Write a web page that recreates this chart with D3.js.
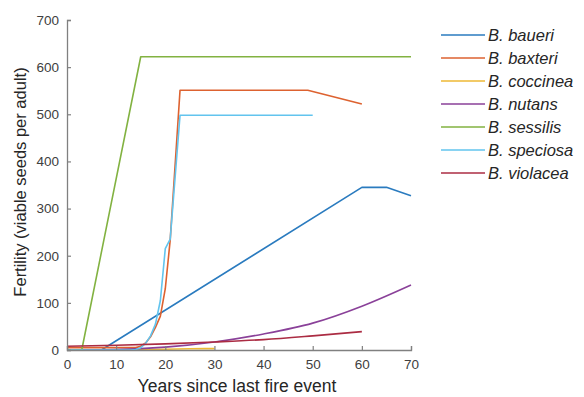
<!DOCTYPE html>
<html><head><meta charset="utf-8">
<script src="https://cdn.jsdelivr.net/npm/d3@7"></script>
<style>body{margin:0;background:#fff}svg{display:block}</style>
</head><body>
<svg id="c" width="584" height="397"></svg>
<script>
const species = ["B. baueri","B. baxteri","B. coccinea","B. nutans","B. sessilis","B. speciosa","B. violacea"];
const colors = ["#2a7bbf","#dd6230","#eeb935","#8a4199","#82b241","#62c4ee","#ab2c43"];
const baueriX = [0,7,60,65,70];
const baueriY = [0,0,345,345,327];
const baxteriX = [0,14,15,16,17,18,19,20,21,23,49,60];
const baxteriY = [5,5,8,15,28,48,72,130,233,551,551,522];
const coccineaX = [0,10,20,25,30];
const coccineaY = [0,0.5,1.5,2.5,3];
const nutansX = [0,10,20,30,40,50,60,70];
const nutansY = [0,1,6,17,34,57,93,138];
const sessilisX = [0,3,15,70];
const sessilisY = [0,0,622,622];
const speciosaX = [0,13,14,15,16,17,18,19,20,21,23,50];
const speciosaY = [0,0,1,5,14,30,55,105,215,235,498,498];
const violaceaX = [0,10,20,30,40,50,60];
const violaceaY = [8,10,13,17,22,30,39];
const xTicks = [0,10,20,30,40,50,60,70];
const yTicks = [0,100,200,300,400,500,600,700];

const seriesX = [baueriX,baxteriX,coccineaX,nutansX,sessilisX,speciosaX,violaceaX];
const seriesY = [baueriY,baxteriY,coccineaY,nutansY,sessilisY,speciosaY,violaceaY];
const smooth = [false,false,true,true,false,false,true];

const svg = d3.select("#c");
const m = {l:67, r:411, t:20, b:350};
const x = d3.scaleLinear().domain([0,70]).range([m.l,m.r]);
const y = d3.scaleLinear().domain([0,700]).range([m.b,m.t]);
const font = "'Liberation Sans', Arial, sans-serif";

const g = svg.append("g");
seriesX.forEach((xs,i)=>{
  const pts = xs.map((v,j)=>[v, seriesY[i][j]]);
  const line = d3.line().x(d=>x(d[0])).y(d=>y(d[1]))
    .curve(smooth[i] ? d3.curveMonotoneX : d3.curveLinear);
  g.append("path").attr("d", line(pts)).attr("fill","none")
   .attr("stroke", colors[i]).attr("stroke-width",1.6).attr("stroke-linejoin","round");
});

const ax = svg.append("g").attr("transform",`translate(0,${m.b})`)
  .call(d3.axisBottom(x).tickValues(xTicks).tickSize(-4).tickPadding(9));
const ay = svg.append("g").attr("transform",`translate(${m.l},0)`)
  .call(d3.axisLeft(y).tickValues(yTicks).tickSize(-4).tickPadding(8));
[ax,ay].forEach(a=>{
  a.select(".domain").attr("stroke","#808080").attr("stroke-width",1.3);
  a.selectAll(".tick line").attr("stroke","#808080").attr("stroke-width",1.2);
  a.selectAll("text").attr("fill","#404040").style("font-family",font).style("font-size","13.5px");
});

svg.append("text").attr("x",(m.l+m.r)/2-2).attr("y",392).attr("text-anchor","middle")
  .style("font-family",font).style("font-size","17.5px").attr("fill","#262626")
  .text("Years since last fire event");
svg.append("text").attr("transform",`translate(26,${(m.t+m.b)/2-3}) rotate(-90)`).attr("text-anchor","middle")
  .style("font-family",font).style("font-size","16.5px").attr("fill","#262626")
  .text("Fertility (viable seeds per adult)");

const lg = svg.append("g");
species.forEach((s,i)=>{
  const yy = 35 + i*23;
  lg.append("line").attr("x1",441).attr("x2",485).attr("y1",yy).attr("y2",yy)
    .attr("stroke",colors[i]).attr("stroke-width",1.6);
  lg.append("text").attr("x",488).attr("y",yy+6).style("font-family",font)
    .style("font-size","16.5px").style("font-style","italic").attr("fill","#262626").text(s);
});
</script>
</body></html>
